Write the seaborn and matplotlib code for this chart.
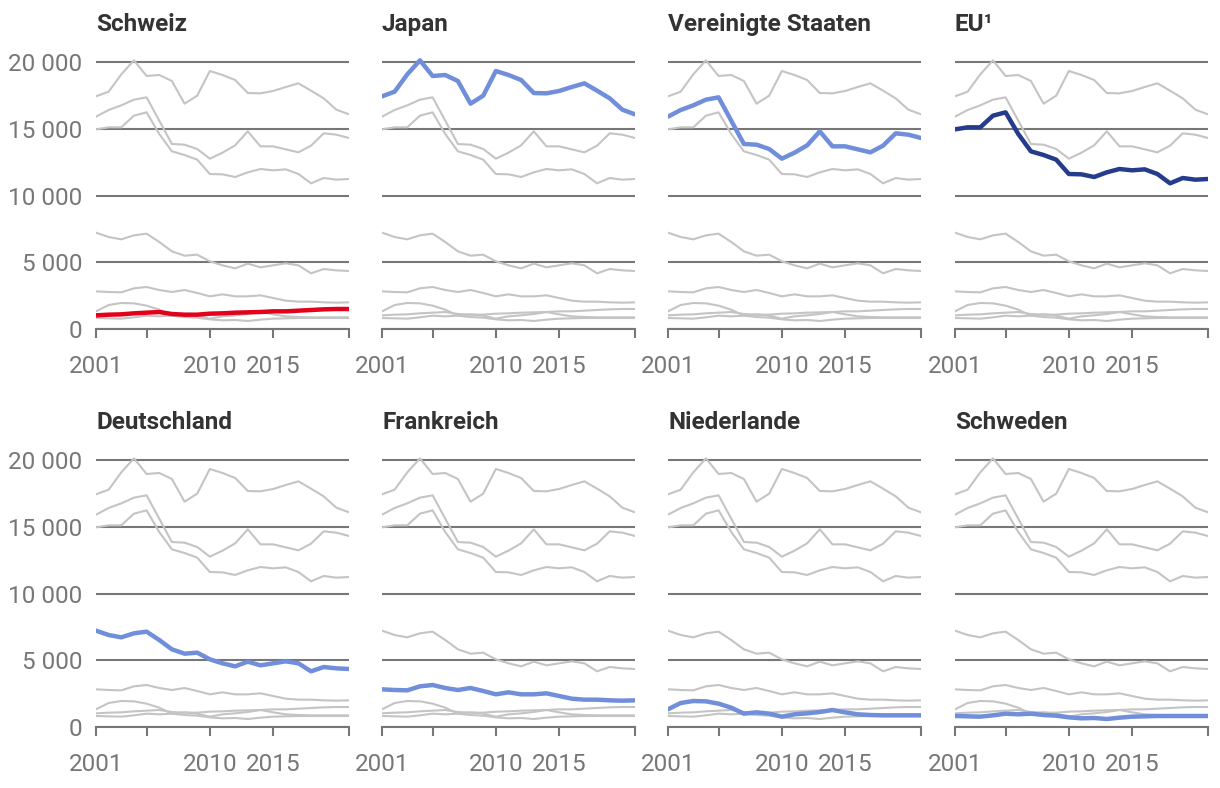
import matplotlib
matplotlib.use("Agg")
import matplotlib.pyplot as plt
import seaborn as sns
import pandas as pd

years = list(range(2001, 2022))

schweiz = [1025, 1075, 1100, 1175, 1225, 1275, 1125, 1075, 1075, 1150, 1175,
           1225, 1250, 1275, 1325, 1325, 1375, 1425, 1475, 1500, 1500]
japan = [17450, 17800, 19100, 20150, 18975, 19050, 18600, 16900, 17500, 19350, 19050,
         18675, 17700, 17675, 17850, 18150, 18425, 17875, 17300, 16450, 16100]
usa = [15925, 16425, 16775, 17200, 17375, 15625, 13875, 13825, 13500, 12775, 13225,
       13775, 14825, 13700, 13700, 13475, 13250, 13750, 14675, 14575, 14325]
eu = [14975, 15125, 15125, 16000, 16250, 14625, 13325, 13050, 12700, 11625, 11600,
      11400, 11750, 12000, 11900, 11975, 11625, 10925, 11325, 11200, 11250]
deutschland = [7225, 6900, 6725, 7025, 7150, 6525, 5825, 5500, 5575, 5075, 4775,
               4550, 4900, 4625, 4775, 4925, 4775, 4175, 4500, 4400, 4350]
frankreich = [2825, 2775, 2750, 3050, 3150, 2925, 2775, 2925, 2700, 2450, 2600,
              2450, 2450, 2525, 2325, 2125, 2050, 2050, 2000, 1975, 2000]
niederlande = [1325, 1800, 1950, 1925, 1750, 1450, 1000, 1100, 1000, 775, 950,
               1025, 1125, 1275, 1100, 950, 900, 875, 875, 875, 875]
schweden = [825, 800, 775, 875, 1000, 950, 1000, 900, 850, 725, 650,
            675, 600, 700, 775, 800, 825, 825, 825, 825, 825]

laender = ["Schweiz", "Japan", "Vereinigte Staaten", "EU¹",
           "Deutschland", "Frankreich", "Niederlande", "Schweden"]
werte = [schweiz, japan, usa, eu, deutschland, frankreich, niederlande, schweden]
farben = ["#E2001A", "#708ED9", "#708ED9", "#253C8C",
          "#708ED9", "#708ED9", "#708ED9", "#708ED9"]
x_ticks = [2001, 2005, 2010, 2015, 2021]
x_labels = ["2001", "", "2010", "2015", ""]
y_ticks = [0, 5000, 10000, 15000, 20000]
y_labels = ["0", "5 000", "10 000", "15 000", "20 000"]

df = pd.DataFrame(
    [(land, j, v) for land, reihe in zip(laender, werte) for j, v in zip(years, reihe)],
    columns=["Land", "Jahr", "Wert"],
)

grid_col = "#777777"
sns.set_style("white")
plt.rcParams["font.family"] = ["Roboto", "DejaVu Sans"]

fig = plt.figure(figsize=(12.2, 7.88), dpi=100)
W, H = 1220, 788
lefts = [96, 382, 668, 955]
zeros = [329, 727]
width = 253
height = 280

for i, land in enumerate(laender):
    row, col = divmod(i, 4)
    ax = fig.add_axes([lefts[col] / W, (H - zeros[row]) / H, width / W, height / H])
    sns.lineplot(data=df, x="Jahr", y="Wert", hue="Land", units="Land", estimator=None,
                 palette={l: "#c4c4c4" for l in laender}, linewidth=1.5,
                 legend=False, ax=ax)
    sns.lineplot(data=df[df["Land"] == land], x="Jahr", y="Wert", color=farben[i],
                 linewidth=3.2, ax=ax)
    ax.set_xlim(2001, 2021)
    ax.set_ylim(0, 21000)
    ax.set_yticks(y_ticks)
    ax.yaxis.grid(True, color=grid_col, linewidth=1.5)
    ax.set_xticks(x_ticks)
    ax.set_xticklabels(x_labels)
    # tick marks drawn as short vlines below the axis (data x, axes-fraction y)
    ax.vlines(x_ticks, -0.032, 0, transform=ax.get_xaxis_transform(),
              color=grid_col, linewidth=1.5, clip_on=False)
    ax.tick_params(axis="x", length=0, pad=19, labelsize=17.5, labelcolor="#777777")
    ax.tick_params(axis="y", left=False, length=0, pad=10, labelsize=17.5,
                   labelcolor="#777777")
    if col == 0:
        ax.set_yticklabels(y_labels)
    else:
        ax.set_yticklabels([])
    for s in ["top", "right", "left"]:
        ax.spines[s].set_visible(False)
    ax.spines["bottom"].set_color(grid_col)
    ax.spines["bottom"].set_linewidth(1.5)
    ax.set_xlabel("")
    ax.set_ylabel("")
    ax.text(0, 1.065, land, transform=ax.transAxes, fontsize=17.5, fontweight="bold",
            color="#333333", ha="left", va="baseline")

fig.savefig("out.png", dpi=100)
